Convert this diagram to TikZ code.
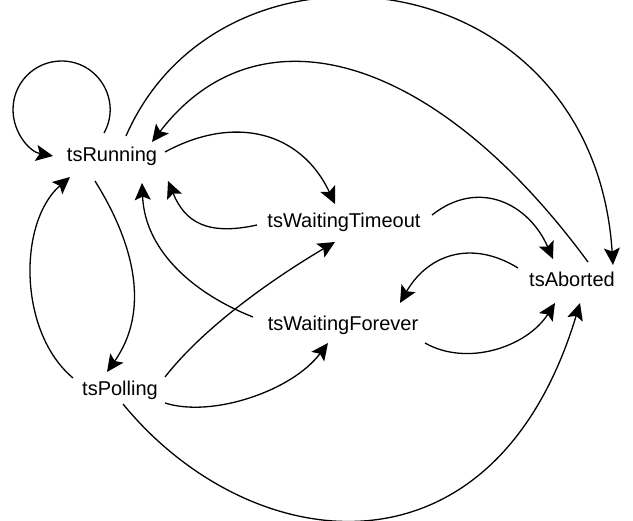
\documentclass[tikz,border=0pt]{standalone}
\usepackage{fontspec}
\setmainfont{Liberation Sans}
\usetikzlibrary{arrows.meta,calc}
\begin{document}
\begin{tikzpicture}[x=1pt,y=-1pt,
  state/.style={inner sep=0pt, anchor=base, font=\fontsize{20}{24}\selectfont},
  conn/.style={line width=1.3pt, -{Stealth[length=17pt,width=16pt,inset=3.5pt]}}]
\useasboundingbox (0,0) rectangle (633,521);
\node[state] (R) at (112,162) {tsRunning};
\node[state] (T) at (344,228) {tsWaitingTimeout};
\node[state] (A) at (572,287) {tsAborted};
\node[state] (P) at (120,396) {tsPolling};
\node[state] (F) at (343,331) {tsWaitingForever};
% self loop
\draw[conn] ($(R.base)+(-8,-29)$) .. controls (122,101) and (98.5,61) .. (61.5,61)
  .. controls (34.7,61) and (13,82.7) .. (13,109.5)
  .. controls (13,133) and (29.7,151.8) .. ($(R.base)+(-59,-6)$);
% R -> A outer
\draw[conn] ($(R.base)+(14,-26)$) .. controls (222,-84) and (593,-42) .. ($(A.base)+(41,-22)$);
% A -> R inner
\draw[conn] ($(A.base)+(16,-25)$) .. controls (432,50) and (257,5) .. ($(R.base)+(40,-20)$);
% R -> T
\draw[conn] ($(R.base)+(53,-10)$) .. controls (235,114) and (301,132) .. ($(T.base)+(-9,-24)$);
% T -> R
\draw[conn] ($(T.base)+(-87,-3)$) .. controls (207,236) and (185,222) .. ($(R.base)+(56,19)$);
% F -> R
\draw[conn] ($(F.base)+(-90,-14)$) .. controls (197,295) and (145,253) .. ($(R.base)+(30,21)$);
% R -> P
\draw[conn] ($(R.base)+(-17,19)$) .. controls (135,245) and (150,311) .. ($(P.base)+(-13,-24)$);
% P -> R
\draw[conn] ($(P.base)+(-47,-18)$) .. controls (18,332) and (18,222) .. ($(R.base)+(-42,15)$);
% P -> T
\draw[conn] ($(P.base)+(45,-19)$) .. controls (208,322) and (284,272) .. ($(T.base)+(-9,14)$);
% P -> F
\draw[conn] ($(P.base)+(45,7)$) .. controls (212,418) and (292,391) .. ($(F.base)+(-15,12)$);
% P -> A
\draw[conn] ($(P.base)+(3,8)$) .. controls (249,558) and (493,591) .. ($(A.base)+(8,16)$);
% T -> A
\draw[conn] ($(T.base)+(88,-13)$) .. controls (479,178) and (529,204) .. ($(A.base)+(-19,-28)$);
% A -> F
\draw[conn] ($(A.base)+(-54,-19)$) .. controls (471,239) and (427.5,255) .. ($(F.base)+(57,-28)$);
% F -> A
\draw[conn] ($(F.base)+(82,12)$) .. controls (467,367) and (527,347) .. ($(A.base)+(-17,16)$);
\end{tikzpicture}
\end{document}
